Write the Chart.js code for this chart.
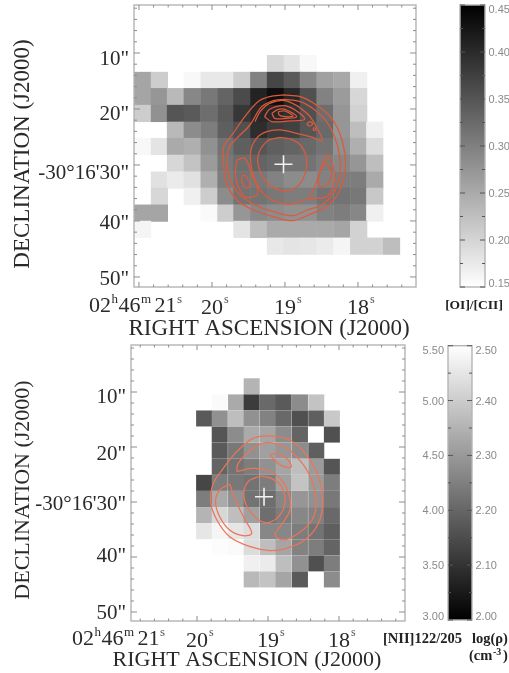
<!DOCTYPE html>
<html>
<head>
<meta charset="utf-8">
<title>NGC 1097 maps</title>
<script src="https://cdn.jsdelivr.net/npm/chart.js@4"></script>
<style>
html, body { margin: 0; padding: 0; background: #fff; }
canvas { position: absolute; filter: blur(0.45px); }
</style>
</head>
<body>
<canvas id="topMap" width="425" height="340" style="left:0;top:0"></canvas>
<canvas id="topBar" width="69" height="320" style="left:440px;top:0"></canvas>
<canvas id="botMap" width="425" height="333" style="left:0;top:340px"></canvas>
<canvas id="botBar" width="134" height="333" style="left:375px;top:340px"></canvas>
<script>
var _ = null;

// axis ticks
const raTicks = [20, 19, 18];
const decTicks = [10, 20, 30, 40, 50];
const decLabels = ['10"', '20"', '-30\u00b016\'30"', '40"', '50"'];

// top map: [OI]/[CII] per spaxel
const topRa = [20.95, 20.72, 20.50, 20.27, 20.04, 19.81, 19.59, 19.36, 19.13, 18.90, 18.68, 18.45, 18.22, 17.99, 17.77, 17.54];
const topDec = [11.9, 14.9, 17.8, 20.8, 23.8, 26.7, 29.7, 32.7, 35.6, 38.6, 41.5, 44.5];
const topValues = [
  [_, _, _, _, _, _, _, _, .197, .182, .158, _, _, _, _, _],
  [.256, .209, _, .158, .177, .177, .209, .297, .368, .344, .291, .262, .252, .168, _, _],
  [.256, .274, .232, .291, .309, .332, .362, .409, .432, .403, .356, .297, .268, .197, _, _],
  [.209, .279, .350, .344, .321, .344, .385, .403, .403, .391, .356, .321, .274, .203, _, _],
  [_, _, .232, .285, .303, .338, .356, .397, .379, .374, .350, .326, .274, .226, .168, _],
  [.158, .182, .250, .244, .279, .315, .338, .350, .338, .332, .326, .315, .279, .244, .191, _],
  [_, _, .197, .221, .268, .309, .321, .332, .326, .315, .315, .303, .291, .274, .226, _],
  [_, .185, .174, .185, .244, .303, .315, .309, .297, .285, .285, .297, .303, .303, .250, _],
  [_, .197, _, .168, .209, .285, .315, .315, .309, .303, .303, .315, .315, .309, .215, _],
  [.256, .256, _, _, .156, .209, .274, .291, .285, .279, .279, .297, .303, .291, .168, _],
  [.162, _, _, _, _, _, .182, .226, .250, .250, .250, .250, .256, .203, _, _],
  [_, _, _, _, _, _, _, _, .177, .182, .179, .174, .162, .203, .203, .226]
];

// bottom map: [NII]122/205 per spaxel
const botRa = [19.90, 19.68, 19.45, 19.23, 19.00, 18.78, 18.55, 18.32, 18.10];
const botDec = [8.96, 11.89, 14.81, 17.74, 20.67, 23.60, 26.52, 29.45, 32.38, 35.30, 38.23, 41.16, 44.08];
const botValues = [
  [_, _, _, 2.353, _, _, _, _, _],
  [_, 2.49, 2.333, 2.118, 2.206, 2.176, 2.275, 2.382, _],
  [2.176, 2.284, 2.373, 2.284, 2.255, 2.206, 2.157, 2.186, 2.392],
  [_, 2.167, 2.275, 2.333, 2.324, 2.275, 2.196, 2.5, 2.157],
  [_, 2.176, 2.235, 2.284, 2.314, 2.294, 2.275, 2.186, _],
  [_, 2.196, 2.225, 2.245, 2.284, 2.324, 2.373, 2.304, 2.167],
  [2.137, 2.245, 2.235, 2.225, 2.245, 2.314, 2.382, 2.304, 2.245],
  [2.245, 2.333, 2.284, 2.225, 2.216, 2.265, 2.294, 2.284, 2.235],
  [2.353, 2.422, 2.373, 2.314, 2.216, 2.245, 2.265, 2.255, 2.206],
  [2.451, 2.48, 2.451, 2.431, 2.265, 2.265, 2.245, 2.225, 2.186],
  [_, 2.494, 2.49, 2.431, 2.373, 2.324, 2.255, 2.245, 2.196],
  [_, _, _, 2.471, 2.461, 2.373, 2.284, 2.157, 2.245],
  [_, _, _, 2.363, 2.382, 2.324, 2.176, _, 2.275]
];

// contours, [ra seconds, dec arcsec]
const topOuter = [[19.02,17.5],[18.79,17.8],[18.57,19.29],[18.38,21.37],[18.25,24.35],[18.18,27.92],[18.18,31.49],[18.27,35.06],[18.43,37.44],[18.63,38.63],[18.89,39.94],[19.16,39.23],[19.43,38.04],[19.66,36.25],[19.80,33.27],[19.84,29.7],[19.84,26.73],[19.71,24.35],[19.55,21.37],[19.37,18.69],[19.21,17.8],[19.02,17.5]];
const topSecond = [[19.02,18.27],[18.79,18.69],[18.59,20.18],[18.43,22.26],[18.32,24.94],[18.25,28.51],[18.25,32.08],[18.34,35.06],[18.50,37.14],[18.70,38.04],[18.89,39.05],[19.16,38.33],[19.41,37.14],[19.59,35.65],[19.73,33.27],[19.79,30.3],[19.77,27.02],[19.66,25.24],[19.48,22.86],[19.32,19.58],[19.16,18.51],[19.02,18.27]];
const topRing = [[19.41,22.26],[19.34,20.48],[19.21,18.99],[18.98,18.57],[18.70,20.77],[18.57,23.15],[18.49,25.65],[18.62,25.06],[18.84,24.35],[19.07,23.75],[19.25,24.05],[19.39,25.24],[19.47,27.62],[19.44,31.49],[19.30,35.06],[19.09,36.67],[18.89,36.96],[18.68,36.07],[18.43,35.65],[18.33,33.27],[18.34,30.3],[18.43,28.21],[18.54,32.08],[18.66,35.95]];
const topRidgeA = [[19.28,21.37],[19.21,20.06],[19.02,19.4],[18.86,20.18],[18.73,21.85],[18.93,22.14],[19.18,22.26],[19.28,21.37]];
const topRidgeB = [[19.18,20.77],[19.09,20.06],[18.98,20.18],[18.84,21.37],[18.98,21.67],[19.14,21.67],[19.18,20.77]];
const topRidgeC = [[19.09,20.48],[19.0,20.36],[18.89,21.25],[19.0,21.37],[19.08,21.07],[19.09,20.48]];
const topCore = [[19.07,25.06],[19.25,25.83],[19.37,28.51],[19.32,31.79],[19.18,33.87],[18.98,34.58],[18.79,33.27],[18.70,29.7],[18.77,26.73],[18.91,25.42],[19.07,25.06]];
const topLeftA = [[19.66,29.11],[19.55,28.81],[19.46,31.49],[19.37,35.06],[19.53,35.77],[19.64,33.87],[19.68,31.49],[19.66,29.11]];
const topLeftB = [[19.59,31.79],[19.53,32.08],[19.48,33.87],[19.55,33.99],[19.59,32.98],[19.59,31.79]];
const topRight = [[18.45,29.4],[18.36,31.19],[18.41,33.27],[18.52,33.87],[18.54,32.08],[18.45,29.4]];
const topSpotA = [[18.70,22.68],[18.66,22.26],[18.62,22.68],[18.67,23.04],[18.70,22.68]];
const topSpotB = [[18.61,23.33],[18.58,23.45],[18.58,23.81],[18.61,23.75],[18.61,23.33]];
const topContours = [topOuter, topSecond, topRing, topRidgeA, topRidgeB, topRidgeC, topCore, topLeftA, topLeftB, topRight, topSpotA, topSpotB];

const botOuter = [[18.97,17.94],[18.69,18.73],[18.46,21.45],[18.29,25.39],[18.23,29.94],[18.29,33.88],[18.48,36.91],[18.74,38.42],[18.97,38.85],[19.25,38.12],[19.54,36.3],[19.72,33.27],[19.81,29.94],[19.77,26.61],[19.63,23.88],[19.44,20.85],[19.21,18.42],[18.97,17.94]];
const botArc = [[19.44,24.48],[19.42,22.97],[19.21,20.24],[19.02,19.15],[18.74,20.24],[18.50,23.27],[18.37,26.61],[18.32,30.24],[18.38,33.27],[18.57,35.7],[18.78,36.91],[18.90,36],[18.83,34.48],[18.69,31.45],[18.71,28.42],[18.83,25.7],[19.02,24.18],[19.23,23.88],[19.44,24.48]];
const botSpot = [[18.97,21.45],[18.88,21.15],[18.74,22.06],[18.67,23.58],[18.78,23.58],[18.90,22.48],[18.97,21.45]];
const botCore = [[19.11,25.27],[19.28,26.3],[19.34,28.73],[19.25,31.76],[19.04,33.76],[18.85,32.67],[18.76,29.94],[18.81,27.21],[18.95,25.7],[19.11,25.27]];
const botLeft = [[19.54,26.73],[19.68,27.82],[19.74,29.94],[19.68,32.67],[19.54,35.09],[19.35,36.12],[19.23,35.7],[19.32,33.27],[19.44,30.24],[19.54,26.73]];
const botContours = [botOuter, botArc, botSpot, botCore, botLeft];

// colour bars
const ratioTicks = [0.15, 0.20, 0.25, 0.30, 0.35, 0.40, 0.45];
const niiTicks = [2.0, 2.1, 2.2, 2.3, 2.4, 2.5];
const densityTicks = [3.0, 3.5, 4.0, 4.5, 5.0, 5.5];

const SERIF = '"Liberation Serif"';
const SANS = '"Liberation Sans"';
const INK = '#2a2a2a';
const FRAME = '#b4b4b4';

function text(ctx, str, x, y, font, color, align, rotate) {
  ctx.save();
  ctx.font = font;
  ctx.fillStyle = color || INK;
  ctx.textAlign = align || 'left';
  ctx.textBaseline = 'alphabetic';
  ctx.translate(x, y);
  if (rotate) ctx.rotate(-Math.PI / 2);
  ctx.fillText(str, 0, 0);
  ctx.restore();
}

function tick(ctx, x1, y1, x2, y2) {
  ctx.beginPath();
  ctx.moveTo(x1, y1);
  ctx.lineTo(x2, y2);
  ctx.stroke();
}

// IDL style frame with inward ticks on all four sides, plus the free texts
function mapPlugin(cfg) {
  return {
    id: 'mapFrame',
    afterDraw: function (chart) {
      var ctx = chart.ctx, a = chart.chartArea, sx = chart.scales.x, sy = chart.scales.y;
      ctx.save();
      ctx.strokeStyle = FRAME;
      ctx.lineWidth = 1.4;
      ctx.strokeRect(a.left, a.top, a.right - a.left, a.bottom - a.top);
      ctx.strokeStyle = '#8c8c8c';
      ctx.lineWidth = 1;
      for (var k = 85; k <= 106; k++) {
        var px = sx.getPixelForValue(k / 5);
        if (px <= a.left + 1 || px >= a.right - 1) continue;
        var lx = k % 5 === 0 ? 5 : 2.5;
        tick(ctx, px, a.bottom, px, a.bottom - lx);
        tick(ctx, px, a.top, px, a.top + lx);
      }
      for (var d = 2; d <= 50; d += 2) {
        var py = sy.getPixelForValue(d);
        var ly = d % 10 === 0 ? 6 : 3;
        tick(ctx, a.left, py, a.left + ly, py);
        tick(ctx, a.right, py, a.right - ly, py);
      }
      ctx.restore();

      // dec labels sit a little off their ticks in the figure
      decTicks.forEach(function (v, i) {
        text(ctx, decLabels[i], a.left - 5, sy.getPixelForValue(v) + cfg.decNudge[i] + 7, '21px ' + SERIF, INK, 'right');
      });
      // seconds mark after each RA tick label
      raTicks.forEach(function (v) {
        text(ctx, 's', sx.getPixelForValue(v) + 12, cfg.labelBase - 9, '12px ' + SERIF, '#555');
      });
      // 02h46m21s
      var x = cfg.raStart;
      [['02', 0], ['h', 1], ['46', 0], ['m', 1], ['21', 0], ['s', 1]].forEach(function (r) {
        var small = r[1] === 1;
        var font = (small ? '13px ' : '22px ') + SERIF;
        text(ctx, r[0], x, small ? cfg.labelBase - 9 : cfg.labelBase, font, small && r[0] === 's' ? '#555' : INK);
        ctx.font = font;
        x += ctx.measureText(r[0]).width + (r[0] === 'm' ? 3 : 0) + (r[0] === 's' ? 0 : 0.5);
      });
      text(ctx, 'RIGHT ASCENSION (J2000)', cfg.raTitleX, cfg.raTitleY, cfg.titleSize + 'px ' + SERIF, INK, 'center');
      text(ctx, 'DECLINATION (J2000)', 29, cfg.decTitleY, cfg.titleSize + 'px ' + SERIF, INK, 'center', true);
    }
  };
}

function makeMap(id, cfg) {
  var cells = [];
  cfg.values.forEach(function (row, j) {
    row.forEach(function (v, i) {
      if (v !== null) cells.push({ x: cfg.ra[i], y: cfg.dec[j], v: v });
    });
  });
  var datasets = [{
    data: cells,
    order: 3,
    pointStyle: 'rect',
    borderWidth: 0,
    pointBorderWidth: 0,
    pointBackgroundColor: function (c) {
      var g = Math.round(cfg.grey(c.raw.v));
      return 'rgb(' + g + ',' + g + ',' + g + ')';
    },
    // rect points have side = radius * sqrt(2)
    pointRadius: function (c) {
      var sx = c.chart.scales.x;
      var side = Math.abs(sx.getPixelForValue(cfg.ra[0]) - sx.getPixelForValue(cfg.ra[1]));
      return (side + 0.4) / Math.SQRT2;
    }
  }];
  cfg.contours.forEach(function (line) {
    datasets.push({
      data: line.map(function (p) { return { x: p[0], y: p[1] }; }),
      order: 2,
      showLine: true,
      tension: 0.35,
      fill: false,
      pointRadius: 0,
      borderColor: cfg.lineColor,
      borderWidth: 1.25
    });
  });
  datasets.push({
    data: [{ x: cfg.cross[0], y: cfg.cross[1] }],
    order: 1,
    pointStyle: 'cross',
    pointRadius: 9,
    pointBorderColor: '#f2f2f2',
    pointBorderWidth: 1.6
  });

  var el = document.getElementById(id);
  return new Chart(el, {
    type: 'scatter',
    data: { datasets: datasets },
    options: {
      responsive: false,
      animation: false,
      events: [],
      layout: { autoPadding: false, padding: { top: cfg.box.top, right: el.width - cfg.box.right, left: 0, bottom: 0 } },
      plugins: { legend: { display: false }, tooltip: { enabled: false } },
      scales: {
        x: {
          type: 'linear',
          reverse: true,
          min: cfg.xRange[0],
          max: cfg.xRange[1],
          grid: { display: false, drawTicks: false },
          border: { display: false },
          afterBuildTicks: function (s) { s.ticks = raTicks.map(function (v) { return { value: v }; }); },
          afterFit: function (s) {
            s.height = el.height - cfg.box.bottom;
            s.paddingLeft = 0;
            s.paddingRight = 0;
          },
          ticks: {
            autoSkip: false,
            maxRotation: 0,
            padding: cfg.xPad,
            color: INK,
            font: { family: SERIF, size: 22 },
            callback: function (v) { return String(v); }
          }
        },
        y: {
          type: 'linear',
          reverse: true,
          min: cfg.yRange[0],
          max: cfg.yRange[1],
          grid: { display: false, drawTicks: false },
          border: { display: false },
          afterFit: function (s) {
            s.width = cfg.box.left;
            s.paddingTop = 0;
            s.paddingBottom = 0;
          },
          ticks: { display: false }
        }
      }
    },
    plugins: [mapPlugin(cfg)]
  });
}

// colour bar: one floating bar with a gradient, labels kept inside the bar ends
function makeBar(id, cfg) {
  var el = document.getElementById(id);
  var scales = {
    x: { display: false },
    y: { display: false, min: cfg.range[0], max: cfg.range[1] }
  };
  if (cfg.left) scales.y2 = { display: false, position: 'left', min: cfg.left.range[0], max: cfg.left.range[1] };

  return new Chart(el, {
    type: 'bar',
    data: {
      labels: [''],
      datasets: [{
        data: [cfg.range],
        barPercentage: 1,
        categoryPercentage: 1,
        backgroundColor: function (c) {
          var a = c.chart.chartArea;
          if (!a) return '#888';
          var g = c.chart.ctx.createLinearGradient(0, a.bottom, 0, a.top);
          g.addColorStop(0, cfg.bottomColor);
          g.addColorStop(1, cfg.topColor);
          return g;
        }
      }]
    },
    options: {
      responsive: false,
      animation: false,
      events: [],
      layout: { padding: cfg.padding },
      plugins: { legend: { display: false }, tooltip: { enabled: false } },
      scales: scales
    },
    plugins: [{
      id: 'barFrame',
      afterDraw: function (chart) {
        var ctx = chart.ctx, a = chart.chartArea, sy = chart.scales.y;
        ctx.save();
        ctx.strokeStyle = FRAME;
        ctx.lineWidth = 1.4;
        ctx.strokeRect(a.left, a.top, a.right - a.left, a.bottom - a.top);
        ctx.strokeStyle = '#555';
        ctx.lineWidth = 1;
        cfg.ticks.forEach(function (v, i) {
          var y = sy.getPixelForValue(v);
          tick(ctx, a.left, y, a.left + 5, y);
          tick(ctx, a.right, y, a.right - 5, y);
          if (i > 0) {
            var m = sy.getPixelForValue((v + cfg.ticks[i - 1]) / 2);
            tick(ctx, a.left, m, a.left + 3, m);
            tick(ctx, a.right, m, a.right - 3, m);
          }
        });
        ctx.restore();
        function inside(y) { return Math.min(Math.max(y, a.top + 4), a.bottom - 4) + 4; }
        cfg.ticks.forEach(function (v) {
          text(ctx, v.toFixed(2), a.right + 3.5, inside(sy.getPixelForValue(v)), '11px ' + SANS, '#8a8a8a');
        });
        if (cfg.left) {
          var s2 = chart.scales.y2;
          cfg.left.ticks.forEach(function (v) {
            text(ctx, v.toFixed(2), a.left - 4, inside(s2.getPixelForValue(v)), '11px ' + SANS, '#8a8a8a', 'right');
          });
        }
        cfg.captions.forEach(function (t) {
          text(ctx, t[0], t[1], t[2], 'bold ' + t[3] + 'px ' + SERIF, '#222', t[4]);
        });
      }
    }]
  });
}

makeMap('topMap', {
  ra: topRa, dec: topDec, values: topValues, contours: topContours,
  grey: function (v) { return 255 * (0.45 - v) / 0.30; },
  lineColor: '#dd5a3c',
  cross: [19.02, 29.88],
  box: { left: 134, right: 416, top: 5, bottom: 287 },
  xRange: [17.205, 21.068],
  yRange: [1.43, 51.79],
  xPad: 8,
  labelBase: 312,
  raStart: 89,
  decNudge: [5, 3.7, 7, 1, 1],
  raTitleX: 269,
  raTitleY: 335,
  decTitleY: 154,
  titleSize: 23
});

makeMap('botMap', {
  ra: botRa, dec: botDec, values: botValues, contours: botContours,
  grey: function (v) { return 255 * (v - 2) / 0.5; },
  lineColor: '#ee7458',
  cross: [19.056, 29.04],
  box: { left: 131, right: 405, top: 5, bottom: 281 },
  xRange: [17.07, 20.93],
  yRange: [1.45, 51.64],
  xPad: 7,
  labelBase: 305,
  raStart: 72,
  decNudge: [4, 5.7, 1, -2, 0],
  raTitleX: 247,
  raTitleY: 326,
  decTitleY: 150,
  titleSize: 22
});

makeBar('topBar', {
  range: [0.15, 0.45],
  ticks: ratioTicks,
  bottomColor: '#ffffff',
  topColor: '#000000',
  padding: { left: 20, right: 24, top: 5, bottom: 33 },
  captions: [['[OI]/[CII]', 34, 309, 13.5, 'center']]
});

makeBar('botBar', {
  range: [2.0, 2.5],
  ticks: niiTicks,
  left: { range: [3.0, 5.5], ticks: densityTicks },
  bottomColor: '#000000',
  topColor: '#ffffff',
  padding: { left: 73, right: 37, top: 5.7, bottom: 53 },
  captions: [
    ['[NII]122/205', 8, 303, 14.5, 'left'],
    ['log(\u03c1)', 97, 303, 14.5, 'left'],
    ['(cm', 94, 320, 14.5, 'left'],
    ['-3', 118, 315, 10, 'left'],
    [')', 128, 320, 14.5, 'left']
  ]
});
</script>
</body>
</html>
